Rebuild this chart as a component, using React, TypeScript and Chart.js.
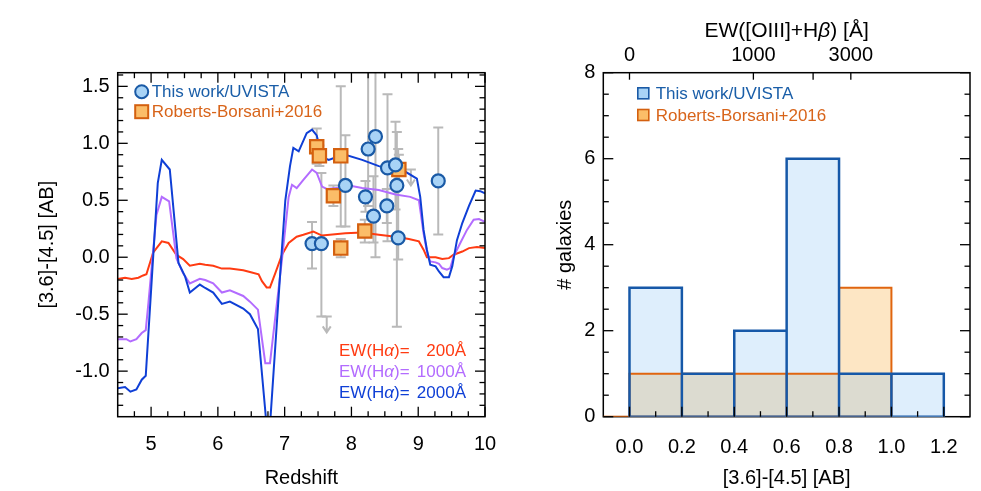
import React, { useEffect, useRef } from 'react';
import { Chart, registerables } from 'chart.js';

Chart.register(...registerables);

const FONT = '"Liberation Sans", Arial, Helvetica, sans-serif';
Chart.defaults.font.family = FONT;
Chart.defaults.color = '#000';

// ---------------- Left panel: model colour tracks vs redshift ----------------
const redZ = [4.5, 4.61, 4.71, 4.81, 4.88, 4.93, 5.03, 5.16, 5.26, 5.38, 5.48, 5.58, 5.73, 5.81, 5.93, 6.06, 6.18, 6.38, 6.48, 6.61, 6.66, 6.73, 6.78, 6.86, 6.96, 7.06, 7.18, 7.28, 7.43, 7.56, 7.91, 8.16, 8.41, 8.66, 8.86, 9.01, 9.08, 9.13, 9.26, 9.36, 9.46, 9.53, 9.66, 9.76, 9.88, 10.0];
const redColor = [-0.19, -0.18, -0.19, -0.18, -0.16, -0.15, 0.04, 0.14, 0.125, 0.02, -0.016, -0.075, -0.057, -0.066, -0.075, -0.1, -0.1, -0.115, -0.13, -0.15, -0.21, -0.265, -0.265, -0.14, 0.022, 0.125, 0.18, 0.197, 0.226, 0.19, 0.21, 0.217, 0.197, 0.18, 0.16, 0.139, 0.066, 0.0, 0.0, -0.016, -0.008, 0.022, 0.05, 0.08, 0.09, 0.08];

const purpleZ = [4.5, 4.63, 4.69, 4.78, 4.86, 4.92, 4.96, 5.08, 5.16, 5.27, 5.38, 5.48, 5.58, 5.73, 5.81, 5.93, 6.06, 6.18, 6.38, 6.48, 6.6, 6.71, 6.78, 6.96, 7.06, 7.11, 7.18, 7.28, 7.41, 7.48, 7.56, 7.63, 7.78, 7.91, 8.16, 8.41, 8.66, 8.88, 9.01, 9.03, 9.08, 9.13, 9.18, 9.26, 9.31, 9.36, 9.43, 9.48, 9.53, 9.63, 9.73, 9.83, 9.91, 10.0];
const purpleColor = [-0.72, -0.72, -0.74, -0.72, -0.665, -0.64, -0.4, 0.37, 0.53, 0.49, -0.01, -0.14, -0.23, -0.19, -0.2, -0.23, -0.31, -0.29, -0.34, -0.39, -0.46, -0.93, -0.93, -0.02, 0.53, 0.636, 0.607, 0.68, 0.77, 0.74, 0.62, 0.6, 0.607, 0.636, 0.607, 0.59, 0.55, 0.53, 0.5, 0.417, 0.21, 0.05, -0.037, -0.045, -0.057, -0.095, -0.11, -0.095, 0.007, 0.125, 0.24, 0.33, 0.335, 0.31];

const blueZ = [4.5, 4.61, 4.69, 4.78, 4.86, 4.92, 5.1, 5.16, 5.28, 5.41, 5.51, 5.58, 5.73, 5.81, 5.93, 6.06, 6.18, 6.38, 6.48, 6.6, 6.73, 6.78, 6.93, 7.01, 7.08, 7.13, 7.21, 7.33, 7.41, 7.48, 7.56, 7.66, 7.78, 7.91, 8.16, 8.41, 8.61, 8.81, 8.98, 9.03, 9.08, 9.13, 9.18, 9.26, 9.31, 9.38, 9.46, 9.51, 9.58, 9.66, 9.76, 9.86, 9.93, 10.0];
const blueColor = [-1.15, -1.14, -1.18, -1.16, -1.075, -1.04, 0.65, 0.855, 0.77, -0.05, -0.17, -0.31, -0.24, -0.27, -0.31, -0.41, -0.39, -0.45, -0.5, -0.63, -1.48, -1.48, -0.17, 0.5, 0.8, 0.96, 0.93, 1.09, 1.12, 1.07, 0.88, 0.855, 0.88, 0.9, 0.855, 0.8, 0.77, 0.75, 0.69, 0.53, 0.24, 0.066, -0.066, -0.08, -0.125, -0.175, -0.175, -0.08, 0.15, 0.3, 0.45, 0.586, 0.58, 0.56];

// This work / UVISTA galaxies
const circZ = [7.41, 7.55, 7.91, 8.21, 8.25, 8.36, 8.33, 8.53, 8.54, 8.66, 8.68, 8.7, 9.3];
const circY = [0.12, 0.12, 0.63, 0.53, 0.95, 1.06, 0.36, 0.45, 0.785, 0.81, 0.63, 0.17, 0.67];
const circLo = [-0.1, -0.52, 0.27, 0.4, 0.45, 0.0, 0.13, 0.3, 0.14, 0.42, -0.61, -0.02, 0.2];
const circHi = [0.31, 0.74, 1.07, 0.67, 2.0, 2.0, 0.71, 0.6, 1.43, 1.19, 1.1, 0.95, 1.14];

// Roberts-Borsani+2016 galaxies
const sqZ = [7.48, 7.52, 7.84, 7.73, 7.84, 8.2, 8.71];
const sqY = [0.97, 0.89, 0.89, 0.54, 0.08, 0.23, 0.77];
const sqLo = [0.82, 0.8, 0.27, 0.45, 0.0, 0.13, 0.64];
const sqHi = [1.13, 0.98, 1.5, 0.63, 0.16, 0.33, 0.9];

// Limits (arrows)
const limZ = [7.63, 8.89];
const limTop = [-0.52, 0.77];
const limBottom = [-0.66, 0.63];

const redshiftTicks = [5, 6, 7, 8, 9, 10];
const colorTicks = [-1.0, -0.5, 0.0, 0.5, 1.0, 1.5];
const ewHaLabels = ['200', '1000', '2000'];

// ---------------- Right panel: histogram ----------------
const binEdges = [0.0, 0.2, 0.4, 0.6, 0.8, 1.0, 1.2];
const uvistaCounts = [3, 1, 2, 6, 1, 1];
const rbCounts = [1, 1, 1, 1, 3, 0];
const histTicks = [0.0, 0.2, 0.4, 0.6, 0.8, 1.0, 1.2];
const countTicks = [0, 2, 4, 6, 8];
// top axis: EW([OIII]+Hb) at the corresponding [3.6]-[4.5] colour
const ewTickColour = [0.0, 0.473, 0.701, 0.845];
const ewTickLabels = ['0', '1000', '', '3000'];

// ---------------- colours ----------------
const C = {
  red: '#ff3b12',
  purple: '#b36cff',
  blue: '#0f3fd6',
  circFill: '#a8d3f6',
  circEdge: '#1a5aa6',
  sqFill: '#fbbd68',
  sqEdge: '#d4600f',
  err: '#b9b9b9',
  legBlue: '#1a5ea8',
  legOrange: '#d8641a',
  histBlueFill: '#deeefc',
  histBlueEdge: '#1658a8',
  histOrangeFill: '#fde6c4',
  histOrangeEdge: '#e0650f',
  histOverlap: '#dcdbd0',
};

const pts = (xs: number[], ys: number[]) => xs.map((x, i) => ({ x, y: ys[i] }));

function range(from: number, to: number, step: number, skip: number[]) {
  const out: number[] = [];
  for (let v = from; v <= to + 1e-9; v += step) {
    const r = Math.round(v * 1000) / 1000;
    if (!skip.some((s) => Math.abs(s - r) < 1e-6)) out.push(r);
  }
  return out;
}

type FrameCfg = {
  xMajor: number[]; xMinor: number[]; yMajor: number[]; yMinor: number[];
  top: boolean; right: boolean; frameFirst: boolean;
  topExtra?: number[];
};

function makeFrame(cfg: FrameCfg) {
  const MAJ = 10, MIN = 5.5;
  const drawFrame = (chart: any) => {
    const { ctx, chartArea: a } = chart;
    ctx.save();
    ctx.strokeStyle = '#000';
    ctx.lineWidth = 1.5;
    ctx.strokeRect(a.left, a.top, a.right - a.left, a.bottom - a.top);
    ctx.restore();
  };
  return {
    id: 'frame' + Math.random().toString(36).slice(2),
    beforeDatasetsDraw(chart: any) {
      if (cfg.frameFirst) drawFrame(chart);
    },
    afterDatasetsDraw(chart: any) {
      if (!cfg.frameFirst) drawFrame(chart);
      const { ctx, chartArea: a, scales } = chart;
      const xs = scales.x, ys = scales.y;
      ctx.save();
      ctx.strokeStyle = '#000';
      ctx.lineWidth = 1.3;
      const line = (x1: number, y1: number, x2: number, y2: number) => {
        ctx.beginPath(); ctx.moveTo(x1, y1); ctx.lineTo(x2, y2); ctx.stroke();
      };
      const xt = (vals: number[], len: number) => vals.forEach((v) => {
        const p = xs.getPixelForValue(v);
        line(p, a.bottom, p, a.bottom - len);
        if (cfg.top) line(p, a.top, p, a.top + len);
      });
      const yt = (vals: number[], len: number) => vals.forEach((v) => {
        const p = ys.getPixelForValue(v);
        line(a.left, p, a.left + len, p);
        if (cfg.right) line(a.right, p, a.right - len, p);
      });
      xt(cfg.xMajor, MAJ); xt(cfg.xMinor, MIN);
      yt(cfg.yMajor, MAJ); yt(cfg.yMinor, MIN);
      (cfg.topExtra || []).forEach((v) => {
        const p = xs.getPixelForValue(v);
        line(p, a.top, p, a.top + 7);
      });
      ctx.restore();
    },
  };
}

const errorBars = {
  id: 'errorBars',
  beforeDatasetsDraw(chart: any) {
    const { ctx, chartArea: a, scales: { x, y } } = chart;
    ctx.save();
    ctx.beginPath();
    ctx.rect(a.left, a.top, a.right - a.left, a.bottom - a.top);
    ctx.clip();
    ctx.strokeStyle = C.err;
    ctx.lineWidth = 2;
    const cap = 5;
    const bar = (z: number, lo: number, hi: number) => {
      const px = x.getPixelForValue(z);
      const p1 = y.getPixelForValue(lo), p2 = y.getPixelForValue(hi);
      ctx.beginPath();
      ctx.moveTo(px, p1); ctx.lineTo(px, p2);
      ctx.moveTo(px - cap, p1); ctx.lineTo(px + cap, p1);
      ctx.moveTo(px - cap, p2); ctx.lineTo(px + cap, p2);
      ctx.stroke();
    };
    circZ.forEach((z, i) => bar(z, circLo[i], circHi[i]));
    sqZ.forEach((z, i) => bar(z, sqLo[i], sqHi[i]));
    limZ.forEach((z, i) => {
      const px = x.getPixelForValue(z);
      const t = y.getPixelForValue(limTop[i]), b = y.getPixelForValue(limBottom[i]);
      ctx.beginPath();
      ctx.moveTo(px - cap, t); ctx.lineTo(px + cap, t);
      ctx.moveTo(px, t); ctx.lineTo(px, b);
      ctx.moveTo(px - 4, b - 6); ctx.lineTo(px, b); ctx.lineTo(px + 4, b - 6);
      ctx.stroke();
    });
    ctx.restore();
  },
};

const leftDecor = {
  id: 'leftDecor',
  afterDraw(chart: any) {
    const { ctx, chartArea: a } = chart;
    ctx.save();
    const mx = a.left + 24;
    const y1 = a.top + 19, y2 = a.top + 39;
    ctx.lineWidth = 2;
    ctx.beginPath(); ctx.arc(mx, y1, 6.5, 0, Math.PI * 2);
    ctx.fillStyle = C.circFill; ctx.fill(); ctx.strokeStyle = C.circEdge; ctx.stroke();
    ctx.fillStyle = C.sqFill; ctx.fillRect(mx - 6.5, y2 - 6.5, 13, 13);
    ctx.strokeStyle = C.sqEdge; ctx.strokeRect(mx - 6.5, y2 - 6.5, 13, 13);
    ctx.font = `17px ${FONT}`;
    ctx.textBaseline = 'middle';
    ctx.textAlign = 'left';
    ctx.fillStyle = C.legBlue; ctx.fillText('This work/UVISTA', a.left + 34, y1 + 1);
    ctx.fillStyle = C.legOrange; ctx.fillText('Roberts-Borsani+2016', a.left + 34, y2 + 1);
    const cols = [C.red, C.purple, C.blue];
    const lx = a.right - 146, rx = a.right - 19;
    ewHaLabels.forEach((val, i) => {
      const yy = a.bottom - 65 + i * 21;
      ctx.fillStyle = cols[i];
      ctx.textAlign = 'left';
      let xx = lx;
      ctx.font = `17px ${FONT}`;
      ctx.fillText('EW(H', xx, yy); xx += ctx.measureText('EW(H').width;
      ctx.font = `italic 17px ${FONT}`;
      ctx.fillText('α', xx, yy); xx += ctx.measureText('α').width;
      ctx.font = `17px ${FONT}`;
      ctx.fillText(')=', xx, yy);
      ctx.textAlign = 'right';
      ctx.fillText(val + 'Å', rx, yy);
    });
    ctx.restore();
  },
};

const rightDecor = {
  id: 'rightDecor',
  afterDraw(chart: any) {
    const { ctx, chartArea: a } = chart;
    ctx.save();
    const mx = a.left + 40;
    const y1 = a.top + 20.6, y2 = a.top + 42.3;
    ctx.lineWidth = 1.6;
    ctx.fillStyle = C.circFill; ctx.fillRect(mx - 5.5, y1 - 5.5, 11, 11);
    ctx.strokeStyle = C.circEdge; ctx.strokeRect(mx - 5.5, y1 - 5.5, 11, 11);
    ctx.fillStyle = C.sqFill; ctx.fillRect(mx - 5.5, y2 - 5.5, 11, 11);
    ctx.strokeStyle = C.sqEdge; ctx.strokeRect(mx - 5.5, y2 - 5.5, 11, 11);
    ctx.font = `17px ${FONT}`;
    ctx.textBaseline = 'middle';
    ctx.textAlign = 'left';
    ctx.fillStyle = C.legBlue; ctx.fillText('This work/UVISTA', a.left + 52.4, y1 + 1);
    ctx.fillStyle = C.legOrange; ctx.fillText('Roberts-Borsani+2016', a.left + 52.4, y2 + 1);
    const parts: [string, boolean][] = [['EW([OIII]+H', false], ['β', true], [') [Å]', false]];
    const f = (it: boolean) => `${it ? 'italic ' : ''}21px ${FONT}`;
    let w = 0;
    parts.forEach(([t, it]) => { ctx.font = f(it); w += ctx.measureText(t).width; });
    let xx = (a.left + a.right) / 2 - w / 2;
    ctx.fillStyle = '#000';
    parts.forEach(([t, it]) => { ctx.font = f(it); ctx.fillText(t, xx, 31); xx += ctx.measureText(t).width; });
    ctx.restore();
  },
};

function outline(counts: number[], edges: number[], start: number) {
  const out: { x: number; y: number }[] = [{ x: start, y: 0 }];
  counts.forEach((c, i) => {
    if (c <= 0) return;
    out.push({ x: edges[i], y: 0 }, { x: edges[i], y: c }, { x: edges[i + 1], y: c }, { x: edges[i + 1], y: 0 });
  });
  out.push({ x: start, y: 0 });
  return out;
}

const fixTicks = (vals: number[]) => (s: any) => { s.ticks = vals.map((v) => ({ value: v })); };
const fixSize = (dim: 'width' | 'height', size: number) => (s: any) => {
  s[dim] = size;
  s.paddingLeft = 0; s.paddingRight = 0; s.paddingTop = 0; s.paddingBottom = 0;
};
const tickFont = { size: 20, family: FONT };

export default function App() {
  const leftRef = useRef<HTMLCanvasElement>(null);
  const rightRef = useRef<HTMLCanvasElement>(null);

  useEffect(() => {
    const left = new Chart(leftRef.current as HTMLCanvasElement, {
      type: 'scatter',
      data: {
        datasets: [
          {
            label: 'This work/UVISTA', data: pts(circZ, circY), showLine: false,
            pointStyle: 'circle', pointRadius: 6.5, pointBackgroundColor: C.circFill,
            pointBorderColor: C.circEdge, pointBorderWidth: 2.2,
            backgroundColor: C.circFill, borderColor: C.circEdge, order: 1,
          },
          {
            label: 'Roberts-Borsani+2016', data: pts(sqZ, sqY), showLine: false,
            pointStyle: 'rect', pointRadius: 9.4, pointBackgroundColor: C.sqFill,
            pointBorderColor: C.sqEdge, pointBorderWidth: 2.2,
            backgroundColor: C.sqFill, borderColor: C.sqEdge, order: 2,
          },
          { label: '2000', data: pts(blueZ, blueColor), showLine: true, borderColor: C.blue, borderWidth: 2, pointRadius: 0, tension: 0, order: 3 },
          { label: '1000', data: pts(purpleZ, purpleColor), showLine: true, borderColor: C.purple, borderWidth: 2, pointRadius: 0, tension: 0, order: 4 },
          { label: '200', data: pts(redZ, redColor), showLine: true, borderColor: C.red, borderWidth: 2, pointRadius: 0, tension: 0, order: 5 },
        ],
      } as any,
      options: {
        responsive: false,
        animation: false,
        events: [],
        layout: { padding: { left: 0, right: 15, top: 72.7, bottom: 0 } },
        plugins: { legend: { display: false }, tooltip: { enabled: false } },
        scales: {
          x: {
            type: 'linear', min: 4.5, max: 10,
            afterBuildTicks: fixTicks(redshiftTicks),
            afterFit: fixSize('height', 74.3),
            grid: { display: false, drawTicks: false }, border: { display: false },
            ticks: { font: tickFont, color: '#000', padding: 15.3, maxRotation: 0, autoSkip: false, callback: (v: any) => String(v) },
            title: { display: true, text: 'Redshift', font: tickFont, color: '#000', padding: { top: 0, bottom: 1 } },
          },
          y: {
            type: 'linear', min: -1.4, max: 1.62,
            afterBuildTicks: fixTicks(colorTicks),
            afterFit: fixSize('width', 117.7),
            grid: { display: false, drawTicks: false }, border: { display: false },
            ticks: { font: tickFont, color: '#000', padding: 8, autoSkip: false, callback: (v: any) => Number(v).toFixed(1) },
            title: { display: true, text: '[3.6]-[4.5] [AB]', font: tickFont, color: '#000', padding: { top: 35, bottom: 0 } },
          },
        },
      } as any,
      plugins: [
        errorBars,
        makeFrame({
          xMajor: redshiftTicks, xMinor: range(4.75, 9.75, 0.25, redshiftTicks),
          yMajor: colorTicks, yMinor: range(-1.3, 1.6, 0.1, colorTicks),
          top: true, right: true, frameFirst: false,
        }),
        leftDecor,
      ],
    });

    const centers = binEdges.slice(0, -1).map((e, i) => (e + binEdges[i + 1]) / 2);
    const overlap = uvistaCounts.map((c, i) => Math.min(c, rbCounts[i]));
    const barCommon = { grouped: false, barPercentage: 1, categoryPercentage: 1, borderWidth: 0 };

    const right = new Chart(rightRef.current as HTMLCanvasElement, {
      type: 'bar',
      data: {
        datasets: [
          { type: 'line', label: 'uvista-edge', data: outline(uvistaCounts, binEdges, binEdges[0]), borderColor: C.histBlueEdge, borderWidth: 2.5, pointRadius: 0, tension: 0, fill: false, order: 1 },
          { type: 'line', label: 'rb-edge', data: outline(rbCounts, binEdges, -0.1), borderColor: C.histOrangeEdge, borderWidth: 2, pointRadius: 0, tension: 0, fill: false, order: 2 },
          { type: 'bar', label: 'overlap', data: pts(centers, overlap), backgroundColor: C.histOverlap, order: 3, ...barCommon },
          { type: 'bar', label: 'rb', data: pts(centers, rbCounts), backgroundColor: C.histOrangeFill, order: 4, ...barCommon },
          { type: 'bar', label: 'uvista', data: pts(centers, uvistaCounts), backgroundColor: C.histBlueFill, order: 5, ...barCommon },
        ],
      } as any,
      options: {
        responsive: false,
        animation: false,
        events: [],
        layout: { padding: { left: 0, right: 11, top: 0, bottom: 0 } },
        plugins: { legend: { display: false }, tooltip: { enabled: false } },
        scales: {
          x: {
            type: 'linear', min: -0.1, max: 1.3, offset: false,
            afterBuildTicks: fixTicks(histTicks),
            afterFit: fixSize('height', 74.3),
            grid: { display: false, drawTicks: false, offset: false }, border: { display: false },
            ticks: { font: tickFont, color: '#000', padding: 18.3, maxRotation: 0, autoSkip: false, callback: (v: any) => Number(v).toFixed(1) },
            title: { display: true, text: '[3.6]-[4.5] [AB]', font: tickFont, color: '#000', padding: { top: 0, bottom: 1 } },
          },
          x2: {
            type: 'linear', position: 'top', axis: 'x', min: -0.1, max: 1.3, offset: false,
            afterBuildTicks: fixTicks(ewTickColour),
            afterFit: fixSize('height', 72.7),
            grid: { display: false, drawTicks: false }, border: { display: false },
            ticks: { font: tickFont, color: '#000', padding: 5.7, maxRotation: 0, autoSkip: false, callback: (_v: any, i: number) => ewTickLabels[i] },
          },
          y: {
            type: 'linear', min: 0, max: 8, beginAtZero: true,
            afterBuildTicks: fixTicks(countTicks),
            afterFit: fixSize('width', 103.3),
            grid: { display: false, drawTicks: false }, border: { display: false },
            ticks: { font: tickFont, color: '#000', padding: 8, autoSkip: false, callback: (v: any) => String(v) },
            title: { display: true, text: '# galaxies', font: tickFont, color: '#000', padding: { top: 53, bottom: 0 } },
          },
        },
      } as any,
      plugins: [
        makeFrame({
          xMajor: histTicks, xMinor: range(0.1, 1.1, 0.2, []),
          yMajor: countTicks, yMinor: range(0.5, 7.5, 0.5, countTicks),
          top: false, right: true, frameFirst: true, topExtra: ewTickColour,
        }),
        rightDecor,
      ],
    });

    return () => { left.destroy(); right.destroy(); };
  }, []);

  return (
    <div style={{ position: 'absolute', left: 0, top: 0, width: 981, height: 491, background: '#fff' }}>
      <canvas ref={leftRef} width={500} height={491} style={{ position: 'absolute', left: 0, top: 0, display: 'block' }} />
      <canvas ref={rightRef} width={481} height={491} style={{ position: 'absolute', left: 500, top: 0, display: 'block' }} />
    </div>
  );
}
